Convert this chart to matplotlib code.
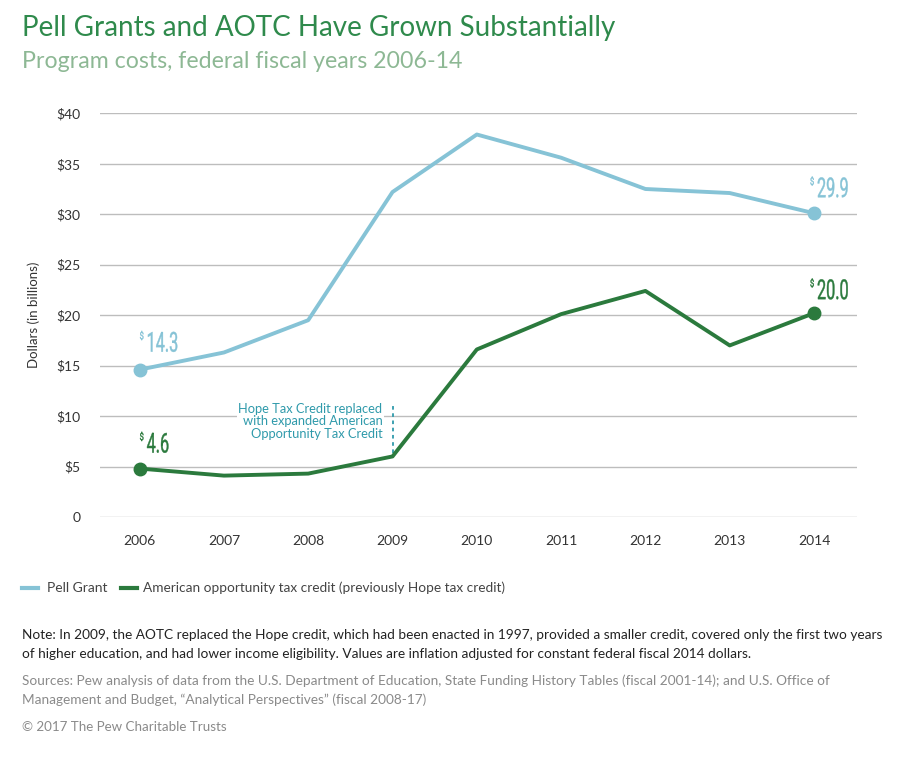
import matplotlib.pyplot as plt
from matplotlib.textpath import TextPath
from matplotlib.patches import PathPatch
from matplotlib.font_manager import FontProperties
from matplotlib.transforms import Affine2D

# Data (billions of dollars)
years = [2006, 2007, 2008, 2009, 2010, 2011, 2012, 2013, 2014]
pell = [14.6, 16.3, 19.5, 32.2, 37.9, 35.6, 32.5, 32.1, 30.1]
aotc = [4.8, 4.1, 4.3, 6.0, 16.6, 20.1, 22.4, 17.0, 20.2]
y_ticks = [0, 5, 10, 15, 20, 25, 30, 35, 40]
y_labels = ["0", "$5", "$10", "$15", "$20", "$25", "$30", "$35", "$40"]
pell_ends = ["14.3", "29.9"]
aotc_ends = ["4.6", "20.0"]

pell_color = "#86c3d6"
aotc_color = "#2b7a3d"
title_color = "#2f8a4c"
sub_color = "#8db894"
note_color = "#2f9aab"

plt.rcParams['font.family'] = ['Lato', 'DejaVu Sans']

fig = plt.figure(figsize=(9, 7.6), dpi=100)
ax = fig.add_axes([100 / 900, 1 - 517 / 760, 757 / 900, (517 - 113.3) / 760])

ax.plot(years, pell, color=pell_color, lw=2.8, solid_capstyle='round', zorder=3)
ax.plot(years, aotc, color=aotc_color, lw=2.8, solid_capstyle='round', zorder=3)
ax.plot([years[0], years[-1]], [pell[0], pell[-1]], 'o', color=pell_color, ms=9, zorder=4)
ax.plot([years[0], years[-1]], [aotc[0], aotc[-1]], 'o', color=aotc_color, ms=9, zorder=4)

ax.set_xlim(2005.53, 2014.51)
ax.set_ylim(0, 40)
ax.set_yticks(y_ticks)
ax.set_yticklabels(y_labels)
ax.set_xticks(years)
ax.tick_params(axis='both', length=0, labelsize=10, colors='#333333')
ax.tick_params(axis='x', pad=13)
ax.tick_params(axis='y', pad=14)
ax.grid(axis='y', color='#bdbdbd', lw=1)
ax.set_axisbelow(True)
for s in ax.spines.values():
    s.set_visible(False)
ax.set_ylabel("Dollars (in billions)", fontsize=9.5, color='#333333', labelpad=12)

# condensed value labels (no narrow font installed, so squeeze the glyph paths)
fp = FontProperties(family='Roboto')


def squeezed(px, py, txt, size, sx, color):
    path = TextPath((0, 0), txt, size=size, prop=fp)
    tr = Affine2D().scale(sx, 1.0).translate(px, py)
    fig.add_artist(PathPatch(path, transform=tr, facecolor=color, edgecolor=color, lw=0.3))


ends = [(years[0], pell[0], pell_ends[0], pell_color, 7, 18),
        (years[-1], pell[-1], pell_ends[1], pell_color, 3, 16),
        (years[0], aotc[0], aotc_ends[0], aotc_color, 7, 16),
        (years[-1], aotc[-1], aotc_ends[1], aotc_color, 3, 14)]
for x, y, txt, c, dx, dy in ends:
    px, py = ax.transData.transform((x, y))
    squeezed(px + dx, py + dy, txt, 27.5, 0.59, c)
    squeezed(px + dx - 7, py + dy + 12.5, "$", 10, 0.75, c)

# annotation for 2009 switch
ax.plot([2009, 2009], [6.3, 11.2], color=note_color, lw=1.3, ls=(0, (2, 2)), zorder=2)
ax.text(2008.88, 11.3, "Hope Tax Credit replaced\nwith expanded American\nOpportunity Tax Credit",
        ha='right', va='top', fontsize=9.3, color=note_color, linespacing=1.05,
        bbox=dict(facecolor='white', edgecolor='none', pad=1), zorder=3)

# titles
fig.text(22 / 900, 1 - 28 / 760, "Pell Grants and AOTC Have Grown Substantially",
         fontsize=20, color=title_color, va='center')
fig.text(22 / 900, 1 - 62 / 760, "Program costs, federal fiscal years 2006-14",
         fontsize=16.7, color=sub_color, va='center')

# legend
fig.lines.append(plt.Line2D([22 / 900, 38 / 900], [1 - 588 / 760] * 2, color=pell_color,
                            lw=3, transform=fig.transFigure))
fig.text(47 / 900, 1 - 588 / 760, "Pell Grant", fontsize=10, color='#444444', va='center')
fig.lines.append(plt.Line2D([121 / 900, 137 / 900], [1 - 588 / 760] * 2, color=aotc_color,
                            lw=3, transform=fig.transFigure))
fig.text(143 / 900, 1 - 588 / 760, "American opportunity tax credit (previously Hope tax credit)",
         fontsize=9.8, color='#444444', va='center')

fig.text(22 / 900, 1 - 635 / 760,
         "Note: In 2009, the AOTC replaced the Hope credit, which had been enacted in 1997, provided a smaller credit, covered only the first two years",
         fontsize=9.85, color='#222222', va='center')
fig.text(22 / 900, 1 - 654 / 760,
         "of higher education, and had lower income eligibility. Values are inflation adjusted for constant federal fiscal 2014 dollars.",
         fontsize=9.85, color='#222222', va='center')
fig.text(22 / 900, 1 - 681 / 760,
         "Sources: Pew analysis of data from the U.S. Department of Education, State Funding History Tables (fiscal 2001-14); and U.S. Office of",
         fontsize=9.85, color='#8a8a8a', va='center')
fig.text(22 / 900, 1 - 700 / 760,
         "Management and Budget, \u201cAnalytical Perspectives\u201d (fiscal 2008-17)",
         fontsize=9.85, color='#8a8a8a', va='center')
fig.text(22 / 900, 1 - 727 / 760, "\u00a9 2017 The Pew Charitable Trusts",
         fontsize=9.6, color='#8a8a8a', va='center')

fig.savefig("out.png", dpi=100)
